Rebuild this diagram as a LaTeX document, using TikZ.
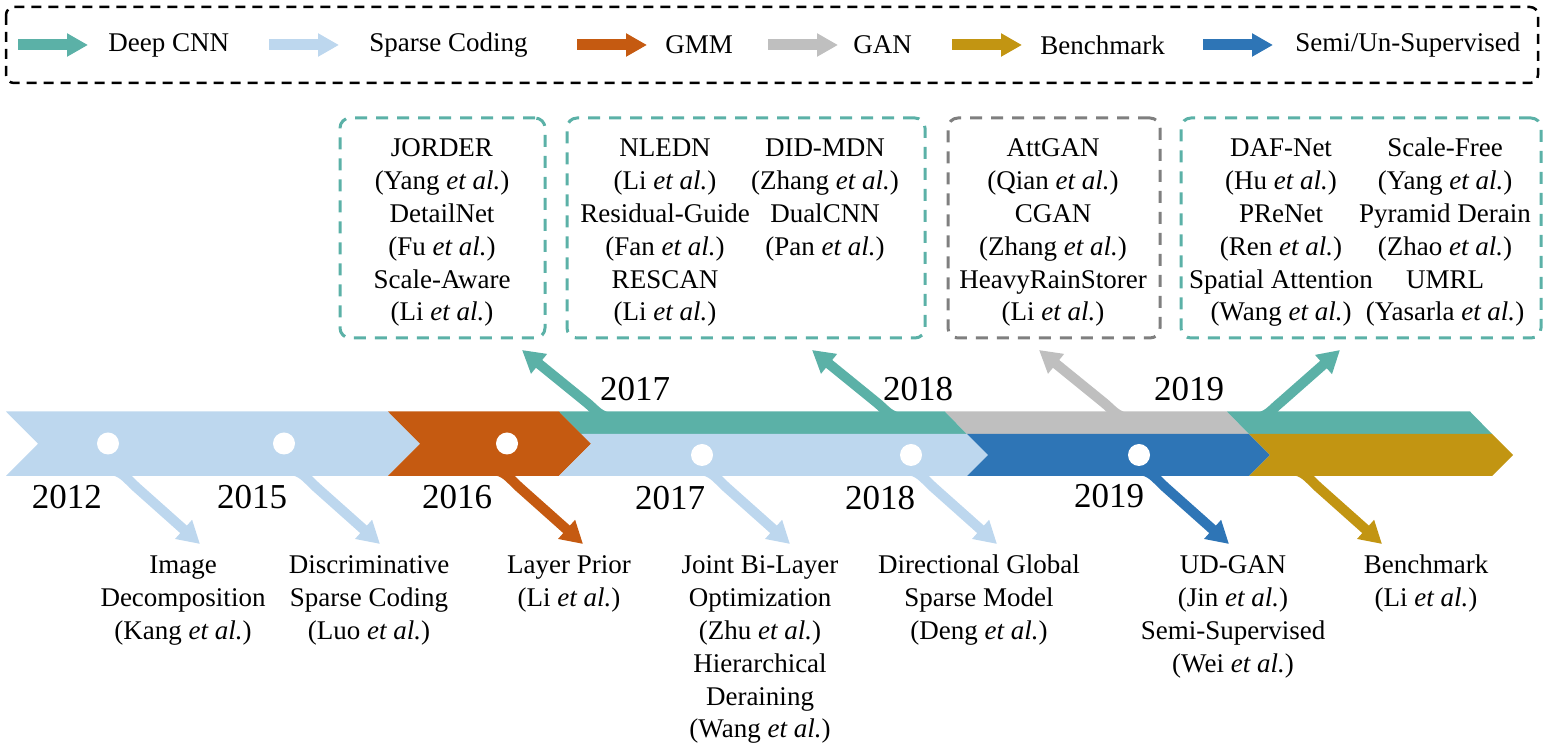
\documentclass[tikz,border=0pt]{standalone}
\usepackage{fontspec}
\setmainfont{Liberation Serif}
\usetikzlibrary{arrows.meta}

\definecolor{cnnteal}{HTML}{5BB1A7}
\definecolor{sparseblue}{HTML}{BDD7EE}
\definecolor{gmmorange}{HTML}{C55A11}
\definecolor{gangray}{HTML}{BFBFBF}
\definecolor{ganline}{HTML}{7F7F7F}
\definecolor{benchgold}{HTML}{C29512}
\definecolor{semiblue}{HTML}{2E75B6}

\begin{document}
\begin{tikzpicture}[x=0.5pt,y=-0.5pt,
    txt/.style={font=\fontsize{13.5}{16.4}\selectfont, align=center, inner sep=0pt},
    yr/.style={font=\fontsize{17.5}{20}\selectfont, inner sep=0pt},
    yeardot/.style={circle, fill=white, inner sep=0pt, minimum size=11pt},
    branch/.style={line width=5pt, -{Triangle[length=11pt,width=12pt]}},
    legarrow/.style={line width=5.5pt, -{Triangle[length=10.5pt,width=11pt]}},
    methodbox/.style={draw, line width=1.5pt, dash pattern=on 6pt off 4.5pt,
      rounded corners=5pt, minimum height=110pt, inner sep=0pt}]
      \useasboundingbox (0,0) rectangle (1548,747);

      % Legend
      \draw[line width=1.25pt, dash pattern=on 5pt off 3.5pt, rounded corners=4pt] (6,7) rectangle (1538,83);
      \node[txt, anchor=west] (lcnn) at (108,45) {Deep CNN};
      \node[txt, anchor=west] (lsparse) at (369,45) {Sparse Coding};
      \node[txt, anchor=west] (lgmm) at (665,45) {GMM};
      \node[txt, anchor=west] (lgan) at (853,45) {GAN};
      \node[txt, anchor=west] (lbench) at (1040,45) {Benchmark};
      \node[txt, anchor=west] (lsemi) at (1295,45) {Semi/Un-Supervised};
      \coordinate (acnn) at (18,45);
      \coordinate (asparse) at (269,45);
      \coordinate (agmm) at (577,45);
      \coordinate (agan) at (768,45);
      \coordinate (abench) at (952,45);
      \coordinate (asemi) at (1203,45);
      \draw[legarrow, cnnteal] (acnn) -- ([xshift=-10pt]lcnn.west);
      \draw[legarrow, sparseblue] (asparse) -- ([xshift=-15pt]lsparse.west);
      \draw[legarrow, gmmorange] (agmm) -- ([xshift=-9pt]lgmm.west);
      \draw[legarrow, gangray] (agan) -- ([xshift=-7.5pt]lgan.west);
      \draw[legarrow, benchgold] (abench) -- ([xshift=-9pt]lbench.west);
      \draw[legarrow, semiblue] (asemi) -- ([xshift=-11pt]lsemi.west);

      % Method boxes
      \node[methodbox, cnnteal, minimum width=102.5pt] (box16) at (442.5,228) {};
      \node[methodbox, cnnteal, minimum width=179pt] (box17) at (746,228) {};
      \node[methodbox, ganline, minimum width=106pt] (boxgan) at (1054,228) {};
      \node[methodbox, cnnteal, minimum width=180pt] (box19) at (1361,228) {};

      % (base = last line)
      \node[txt, anchor=base] (m16) at (442,321) {JORDER\\(Yang \textit{et al.})\\DetailNet\\(Fu \textit{et al.})\\Scale-Aware\\(Li \textit{et al.})};
      \node[txt, anchor=base] (m17a) at (665,321) {NLEDN\\(Li \textit{et al.})\\Residual-Guide\\(Fan \textit{et al.})\\RESCAN\\(Li \textit{et al.})};
      \node[txt, anchor=base] (m17b) at (825,255.4) {DID-MDN\\(Zhang \textit{et al.})\\DualCNN\\(Pan \textit{et al.})};
      \node[txt, anchor=base] (mgan) at (1053,321) {AttGAN\\(Qian \textit{et al.})\\CGAN\\(Zhang \textit{et al.})\\HeavyRainStorer\\(Li \textit{et al.})};
      \node[txt, anchor=base] (m19a) at (1281,321) {DAF-Net\\(Hu \textit{et al.})\\PReNet\\(Ren \textit{et al.})\\Spatial Attention\\(Wang \textit{et al.})};
      \node[txt, anchor=base] (m19b) at (1445,321) {Scale-Free\\(Yang \textit{et al.})\\Pyramid Derain\\(Zhao \textit{et al.})\\UMRL\\(Yasarla \textit{et al.})};

      % Timeline band
      \fill[sparseblue] (6,411.5) -- (388,411.5) -- (420,443.75) -- (388,476) -- (6,476) -- (38,443.75) -- cycle;
      \fill[gmmorange] (388,411.5) -- (559,411.5) -- (591,443.75) -- (559,476) -- (388,476) -- (420,443.75) -- cycle;
      \fill[cnnteal] (559,411.5) -- (945,411.5) -- (967,434) -- (581.3,434) -- cycle;
      \fill[sparseblue] (581.3,434) -- (967,434) -- (988,455) -- (967,476) -- (559,476) -- (591,443.75) -- cycle;
      \fill[gangray] (945,411.5) -- (1227,411.5) -- (1249,434) -- (967,434) -- cycle;
      \fill[semiblue] (967,434) -- (1249,434) -- (1270,455) -- (1249,476) -- (967,476) -- (988,455) -- cycle;
      \fill[cnnteal] (1227,411.5) -- (1470,411.5) -- (1492,434) -- (1249,434) -- cycle;
      \fill[benchgold] (1249,434) -- (1492,434) -- (1513,455) -- (1492,476) -- (1249,476) -- (1270,455) -- cycle;

      % Branches up to the boxes
      \coordinate (su17) at (614,418);  \coordinate (tu17) at (522,350);
      \coordinate (su18) at (904,418);  \coordinate (tu18) at (812,350);
      \coordinate (sugan) at (1131,418); \coordinate (tugan) at (1039,350);
      \coordinate (su19) at (1253,418); \coordinate (tu19) at (1340,350);
      \draw[branch, cnnteal] (su17) .. controls +(-14,0) and +(9,7) .. ++(-28,-16) -- (tu17);
      \draw[branch, cnnteal] (su18) .. controls +(-14,0) and +(9,7) .. ++(-28,-16) -- (tu18);
      \draw[branch, gangray] (sugan) .. controls +(-14,0) and +(9,7) .. ++(-28,-16) -- (tugan);
      \draw[branch, cnnteal] (su19) .. controls +(14,0) and +(-9,7) .. ++(28,-16) -- (tu19);

      % Branches down to the labels
      \coordinate (sd12) at (108,470);  \coordinate (td12) at (200,544);
      \coordinate (sd15) at (288,470);  \coordinate (td15) at (380,544);
      \coordinate (sd16) at (491,470);  \coordinate (td16) at (583,544);
      \coordinate (sd17) at (698,470);  \coordinate (td17) at (790,544);
      \coordinate (sd18) at (905,470);  \coordinate (td18) at (997,544);
      \coordinate (sd19) at (1137,470); \coordinate (td19) at (1229,544);
      \coordinate (sdbm) at (1290,470); \coordinate (tdbm) at (1382,544);
      \draw[branch, sparseblue] (sd12) .. controls +(14,0) and +(-9,-8) .. ++(28,17) -- (td12);
      \draw[branch, sparseblue] (sd15) .. controls +(14,0) and +(-9,-8) .. ++(28,17) -- (td15);
      \draw[branch, gmmorange] (sd16) .. controls +(14,0) and +(-9,-8) .. ++(28,17) -- (td16);
      \draw[branch, sparseblue] (sd17) .. controls +(14,0) and +(-9,-8) .. ++(28,17) -- (td17);
      \draw[branch, sparseblue] (sd18) .. controls +(14,0) and +(-9,-8) .. ++(28,17) -- (td18);
      \draw[branch, semiblue] (sd19) .. controls +(14,0) and +(-9,-8) .. ++(28,17) -- (td19);
      \draw[branch, benchgold] (sdbm) .. controls +(14,0) and +(-9,-8) .. ++(28,17) -- (tdbm);

      % Year dots
      \node[yeardot] (c2012) at (108,443.5) {};
      \node[yeardot] (c2015) at (284,443.5) {};
      \node[yeardot] (c2016) at (507,443.5) {};
      \node[yeardot] (c2017) at (702,455) {};
      \node[yeardot] (c2018) at (911,455) {};
      \node[yeardot] (c2019) at (1139,455) {};

      % Years
      \node[yr] (y2017u) at (635,389) {2017};
      \node[yr] (y2018u) at (918,389) {2018};
      \node[yr] (y2019u) at (1189,389) {2019};
      \node[yr] (y2012) at (67,497) {2012};
      \node[yr] (y2015) at (252,497) {2015};
      \node[yr] (y2016) at (457,497) {2016};
      \node[yr] (y2017) at (670,498) {2017};
      \node[yr] (y2018) at (880,498) {2018};
      \node[yr] (y2019) at (1109,496) {2019};

      % Methods below the timeline
      \node[txt, anchor=base] (decomp) at (183,639.6) {Image\\Decomposition\\(Kang \textit{et al.})};
      \node[txt, anchor=base] (dsc) at (369,639.6) {Discriminative\\Sparse Coding\\(Luo \textit{et al.})};
      \node[txt, anchor=base] (prior) at (569,606.8) {Layer Prior\\(Li \textit{et al.})};
      \node[txt, anchor=base] (bilayer) at (760,738) {Joint Bi-Layer\\Optimization\\(Zhu \textit{et al.})\\Hierarchical\\Deraining\\(Wang \textit{et al.})};
      \node[txt, anchor=base] (dgsm) at (979,639.6) {Directional Global\\Sparse Model\\(Deng \textit{et al.})};
      \node[txt, anchor=base] (udgan) at (1233,672.4) {UD-GAN\\(Jin \textit{et al.})\\Semi-Supervised\\(Wei \textit{et al.})};
      \node[txt, anchor=base] (bmark) at (1426,606.8) {Benchmark\\(Li \textit{et al.})};
    \end{tikzpicture}
\end{document}
